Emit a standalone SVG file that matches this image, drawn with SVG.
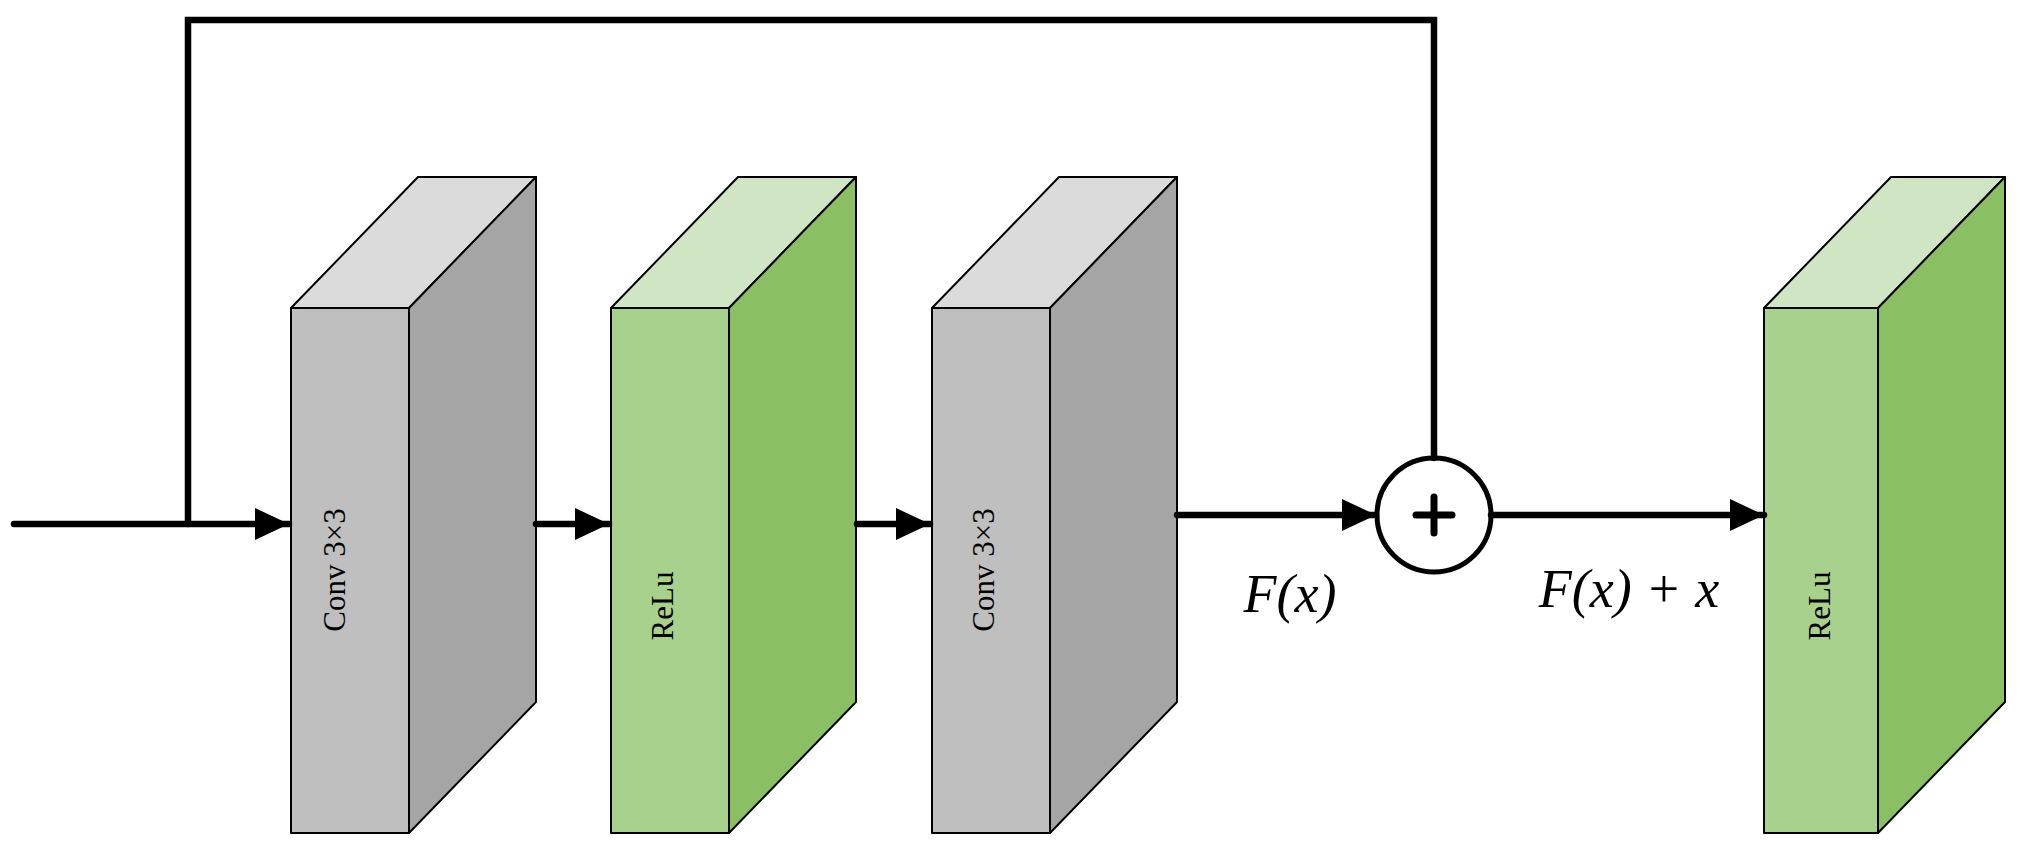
<svg xmlns="http://www.w3.org/2000/svg" width="2030" height="854" viewBox="0 0 2030 854">
<style>
.e{stroke:#000;stroke-width:2;stroke-linejoin:round}
.gf{fill:#bfbfbf}.gs{fill:#a5a5a5}.gt{fill:#dbdbdb}
.nf{fill:#a9d18e}.ns{fill:#8bbf63}.nt{fill:#d0e5c4}
.lbl{font-family:"Liberation Serif",serif;font-size:31px;text-anchor:middle}
.m{font-family:"Liberation Serif",serif;font-style:italic;font-size:54px;text-anchor:middle}
.ln{stroke:#000;stroke-width:6.5;fill:none;stroke-linecap:round}
</style>
<defs>
<marker id="a" markerUnits="userSpaceOnUse" markerWidth="34" markerHeight="32" refX="34" refY="16" orient="auto"><path d="M0,0 L34,16 L0,32 Z" fill="#000"/></marker>
</defs>
<rect width="2030" height="854" fill="#fff"/>
<g id="conv1">
<polygon class="e gt" points="291,308 418,177 536,177 409,308"/>
<polygon class="e gs" points="409,308 536,177 536,702 409,833"/>
<rect class="e gf" x="291" y="308" width="118" height="525"/>
<text class="lbl" transform="translate(345,570) rotate(-90)">Conv 3×3</text>
</g>
<g id="relu1">
<polygon class="e nt" points="611,308 738,177 856,177 729,308"/>
<polygon class="e ns" points="729,308 856,177 856,702 729,833"/>
<rect class="e nf" x="611" y="308" width="118" height="525"/>
<text class="lbl" transform="translate(673,606) rotate(-90)">ReLu</text>
</g>
<g id="conv2">
<polygon class="e gt" points="932,308 1059,177 1177,177 1050,308"/>
<polygon class="e gs" points="1050,308 1177,177 1177,702 1050,833"/>
<rect class="e gf" x="932" y="308" width="118" height="525"/>
<text class="lbl" transform="translate(994,570) rotate(-90)">Conv 3×3</text>
</g>
<g id="relu2">
<polygon class="e nt" points="1764,308 1891,177 2005,177 1878,308"/>
<polygon class="e ns" points="1878,308 2005,177 2005,702 1878,833"/>
<rect class="e nf" x="1764" y="308" width="114" height="525"/>
<text class="lbl" transform="translate(1830,606) rotate(-90)">ReLu</text>
</g>
<g id="add">
<circle cx="1434" cy="515" r="57" fill="#fff" stroke="#000" stroke-width="5"/>
<path d="M1434,497 V533 M1416,515 H1452" stroke="#000" stroke-width="7" stroke-linecap="round"/>
</g>
<g id="connectors">
<path class="ln" d="M14,524 H289" marker-end="url(#a)"/>
<path class="ln" d="M188,524 V20 H1434 V458" stroke-linecap="butt" stroke-width="5"/>
<path class="ln" d="M536,524 H609" marker-end="url(#a)"/>
<path class="ln" d="M857,524 H930" marker-end="url(#a)"/>
<path class="ln" d="M1177,515 H1376" marker-end="url(#a)"/>
<path class="ln" d="M1491,515 H1764" marker-end="url(#a)"/>
</g>
<text class="m" x="1290" y="612">F(x)</text>
<text class="m" x="1629" y="607">F(x) + x</text>
</svg>
